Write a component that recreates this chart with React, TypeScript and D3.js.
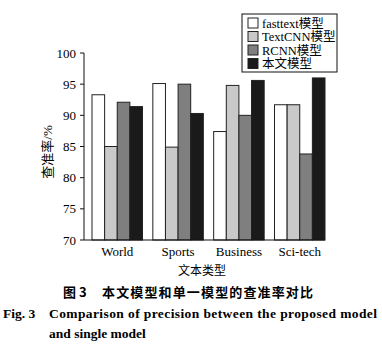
import { useEffect, useRef } from "react"
import * as d3 from 'd3';

const categories = ['World', 'Sports', 'Business', 'Sci-tech'];
const seriesNames = ['fasttext模型', 'TextCNN模型', 'RCNN模型', '本文模型'];
const fasttext = [93.3, 95.1, 87.4, 91.7];
const textcnn = [85.0, 84.9, 94.8, 91.7];
const rcnn = [92.1, 95.0, 90.0, 83.8];
const ours = [91.4, 90.3, 95.6, 96.0];
const yTicks = [70, 75, 80, 85, 90, 95, 100];
const colors = ['#ffffff', '#c9c9c9', '#7f7f7f', '#1a1a1a'];

const serif = '"Liberation Serif", "Times New Roman", "Noto Sans CJK SC", serif';
const cjk = '"Noto Sans CJK SC", sans-serif';

const App = () => {
  const svgRef = useRef<SVGSVGElement>(null);
  const width = 382, height = 350;

  useEffect(() => {
    const series = [fasttext, textcnn, rcnn, ours];
    const svg = d3.select(svgRef.current);
    svg.selectAll("*").remove();

    const x0 = d3.scaleBand().domain(categories).range([92, 325]).paddingInner(0.17).paddingOuter(0);
    const x1 = d3.scaleBand().domain(seriesNames).range([0, x0.bandwidth()]);
    const y = d3.scaleLinear().domain([70, 100]).range([240, 53]);

    svg.append('rect').attr('width', width).attr('height', height).attr('fill', '#fff');

    // bars
    categories.forEach((c, ci) => {
      const g = svg.append('g').attr('transform', `translate(${x0(c)},0)`);
      series.forEach((vals, si) => {
        g.append('rect')
          .attr('x', x1(seriesNames[si]))
          .attr('y', y(vals[ci]))
          .attr('width', x1.bandwidth())
          .attr('height', y(70) - y(vals[ci]))
          .attr('fill', colors[si])
          .attr('stroke', '#222')
          .attr('stroke-width', 1);
      });
      svg.append('text')
        .attr('x', x0(c) + x0.bandwidth() / 2)
        .attr('y', 256)
        .attr('text-anchor', 'middle')
        .attr('font-family', serif)
        .attr('font-size', 13)
        .text(c);
    });

    // axes
    svg.append('line').attr('x1', 84).attr('x2', 84).attr('y1', 53).attr('y2', 240).attr('stroke', '#111');
    svg.append('line').attr('x1', 84).attr('x2', 325).attr('y1', 240).attr('y2', 240).attr('stroke', '#111');
    yTicks.forEach(t => {
      svg.append('line').attr('x1', 80).attr('x2', 84).attr('y1', y(t)).attr('y2', y(t)).attr('stroke', '#111');
      svg.append('text')
        .attr('x', 76)
        .attr('y', y(t) + 4.5)
        .attr('text-anchor', 'end')
        .attr('font-family', serif)
        .attr('font-size', 13)
        .text(t);
    });

    svg.append('text')
      .attr('transform', `translate(52,152) rotate(-90)`)
      .attr('text-anchor', 'middle')
      .attr('font-family', serif)
      .attr('font-size', 13)
      .text('查准率/%');

    svg.append('text')
      .attr('x', 202)
      .attr('y', 275)
      .attr('text-anchor', 'middle')
      .attr('font-family', cjk)
      .attr('font-size', 12)
      .text('文本类型');

    // legend
    const lg = svg.append('g');
    lg.append('rect').attr('x', 242).attr('y', 14).attr('width', 95).attr('height', 58)
      .attr('fill', '#fff').attr('stroke', '#111');
    seriesNames.forEach((n, i) => {
      const cy = 23 + i * 13.5;
      lg.append('rect').attr('x', 248).attr('y', cy - 5).attr('width', 10).attr('height', 10)
        .attr('fill', colors[i]).attr('stroke', '#222');
      lg.append('text').attr('x', 262).attr('y', cy + 4.5)
        .attr('font-family', serif).attr('font-size', 12.5).text(n);
    });

    // caption
    svg.append('text')
      .attr('x', 63).attr('y', 297)
      .attr('font-family', cjk).attr('font-weight', 'bold').attr('font-size', 13)
      .text('图 3');
    svg.append('text')
      .attr('x', 102).attr('y', 297)
      .attr('font-family', cjk).attr('font-weight', 'bold').attr('font-size', 13)
      .attr('textLength', 211)
      .text('本文模型和单一模型的查准率对比');
    svg.append('text')
      .attr('x', 3).attr('y', 318)
      .attr('font-family', serif).attr('font-weight', 'bold').attr('font-size', 13.5)
      .text('Fig. 3');
    svg.append('text')
      .attr('x', 49).attr('y', 318)
      .attr('font-family', serif).attr('font-weight', 'bold').attr('font-size', 13.5)
      .attr('textLength', 328)
      .text('Comparison of precision between the proposed model');
    svg.append('text')
      .attr('x', 49).attr('y', 338)
      .attr('font-family', serif).attr('font-weight', 'bold').attr('font-size', 13.5)
      .text('and single model');
  }, []);

  return (
    <svg ref={svgRef} width={width} height={height}
      style={{ position: 'absolute', left: 0, top: 0, display: 'block' }} />
  )
}

export default App
